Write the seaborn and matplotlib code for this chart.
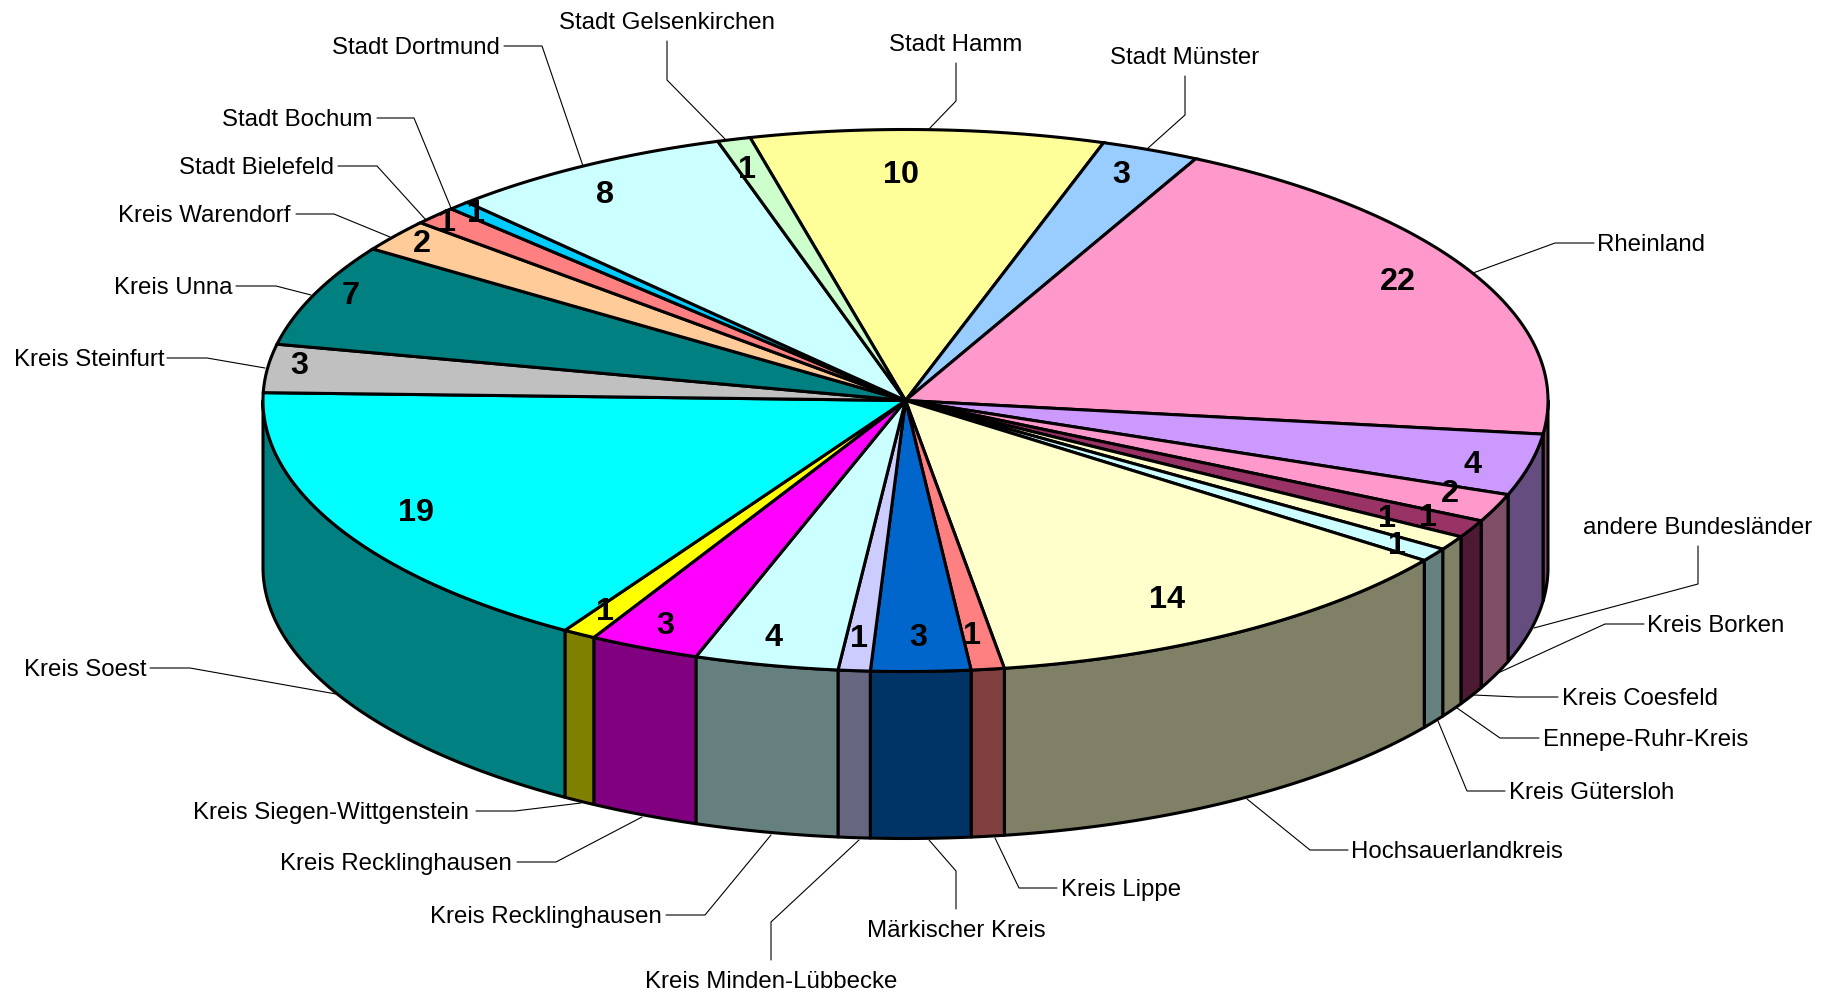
import numpy as np
import pandas as pd
import matplotlib
matplotlib.use("Agg")
import matplotlib.pyplot as plt
import seaborn as sns
from matplotlib.colors import to_rgb
from matplotlib.patches import Polygon

# ---- data (clockwise, beginning with Stadt Hamm) ----
regions = ["Stadt Hamm", "Stadt Münster", "Rheinland", "andere Bundesländer", "Kreis Borken",
           "Kreis Coesfeld", "Ennepe-Ruhr-Kreis", "Kreis Gütersloh", "Hochsauerlandkreis",
           "Kreis Lippe", "Märkischer Kreis", "Kreis Minden-Lübbecke", "Kreis Recklinghausen",
           "Kreis Recklinghausen", "Kreis Siegen-Wittgenstein", "Kreis Soest", "Kreis Steinfurt",
           "Kreis Unna", "Kreis Warendorf", "Stadt Bielefeld", "Stadt Bochum", "Stadt Dortmund",
           "Stadt Gelsenkirchen"]
# the printed (rounded) labels
counts = [10, 3, 22, 4, 2, 1, 1, 1, 14, 1, 3, 1, 4, 3, 1, 19, 3, 7, 2, 1, 1, 8, 1]
# the unrounded sizes
sizes = [10.05, 2.8, 22.1, 4.15, 1.9, 1.2, 0.97, 0.91, 14.15, 0.94, 2.83, 0.91, 4.09, 3.14, 0.94,
         18.76, 3.25, 6.92, 2.2, 1.26, 0.63, 8.18, 0.94]
colors = ["#FFFF99", "#99CCFF", "#FF99CC", "#CC99FF", "#FF99CC", "#993366", "#FFFFCC", "#CCFFFF",
          "#FFFFCC", "#FF8080", "#0066CC", "#CCCCFF", "#CCFFFF", "#FF00FF", "#FFFF00", "#00FFFF",
          "#C0C0C0", "#008080", "#FFCC99", "#FF8080", "#00CCFF", "#CCFFFF", "#CCFFCC"]

# ---- layout (pixels of the 1832x994 canvas) ----
CX, CY, RX, RY, DEPTH = 905.5, 400.5, 642.5, 271.0, 167.0
START = -14.0
value_xy = [(771,148),(960,148),(1196,239),(1260,396),(1241,421),(1222,441),(1187,442),(1196,465),
            (999,511),(832,542),(786,544),(735,545),(662,544),(569,534),(518,522),(356,437),
            (256,311),(300,251),(361,207),(383,189),(407,181),(518,165),(639,143)]
value_xy = [(x*1.1684, y*1.1684 + 0.5) for x, y in value_xy]
label_xy = [(956,43,"center"),(1185,56,"center"),(1597,243,"left"),(1698,526,"center"),(1647,624,"left"),
            (1562,697,"left"),(1543,738,"left"),(1509,791,"left"),(1351,850,"left"),(1061,888,"left"),
            (956,929,"center"),(771,980,"center"),(662,915,"right"),(512,862,"right"),(469,811,"right"),
            (147,668,"right"),(164,358,"right"),(233,286,"right"),(291,214,"right"),(334,166,"right"),
            (373,118,"right"),(500,46,"right"),(667,21,"center")]
leaders = [[(956,63),(956,101),(929,129)], [(1185,76),(1185,115),(1147,149)],
           [(1594,243),(1555,243),(1473,273)], [(1698,546),(1698,584),(1534,628)],
           [(1644,624),(1605,624),(1498,673)], [(1558,697),(1517,697),(1474,695)],
           [(1539,738),(1500,738),(1457,708)], [(1505,791),(1467,791),(1438,721)],
           [(1348,850),(1310,850),(1247,799)], [(1057,888),(1019,888),(995,838)],
           [(956,909),(956,871),(929,840)], [(771,960),(771,922),(859,840)],
           [(666,915),(705,915),(771,835)], [(517,862),(556,862),(642,817)],
           [(476,811),(515,811),(581,803)], [(150,668),(190,668),(336,694)],
           [(167,358),(207,358),(265,368)], [(236,286),(276,286),(311,295)],
           [(296,214),(334,214),(390,237)], [(338,166),(377,166),(426,220)],
           [(377,118),(414,118),(451,208)], [(504,46),(542,46),(583,166)],
           [(667,41),(667,80),(726,140)]]

sns.set_theme(style="white")
plt.rcParams["font.family"] = ["Liberation Sans", "DejaVu Sans"]

df = pd.DataFrame({"region": regions, "count": counts, "size": sizes, "color": colors})
deg = 360.0 * df["size"].to_numpy() / df["size"].sum()
df["t0"] = START + np.r_[0, np.cumsum(deg)[:-1]]
df["t1"] = df["t0"] + deg
palette = sns.color_palette(colors)

fig = plt.figure(figsize=(18.32, 9.94), dpi=100, facecolor="white")
ax = fig.add_axes([0, 0, 1, 1])
ax.set_xlim(0, 1832)
ax.set_ylim(994, 0)
ax.axis("off")


def rim(a0, a1, dy=0.0):
    t = np.radians(np.linspace(a0, a1, max(int(abs(a1 - a0) * 3), 2)))
    return np.c_[CX + RX * np.sin(t), CY + dy - RY * np.cos(t)]


LW = 2.2
# side wall
for (_, r), c in zip(df.iterrows(), palette):
    a0, a1 = max(r.t0, 90), min(r.t1, 270)
    if a1 <= a0:
        continue
    pts = np.r_[rim(a0, a1), rim(a0, a1, DEPTH)[::-1]]
    side = tuple(0.5 * v for v in to_rgb(c))
    ax.add_patch(Polygon(pts, closed=True, fc=side, ec="black", lw=LW, joinstyle="round", zorder=2))

# top face
for (_, r), c in zip(df.iterrows(), palette):
    pts = np.r_[[(CX, CY)], rim(r.t0, r.t1)]
    ax.add_patch(Polygon(pts, closed=True, fc=c, ec="black", lw=LW, joinstyle="miter", zorder=3))

# leaders and labels
for pts, (x, y, ha), name in zip(leaders, label_xy, df["region"]):
    p = np.array(pts)
    ax.plot(p[:, 0], p[:, 1], color="black", lw=0.8, zorder=1, solid_joinstyle="miter")
    ax.text(x, y + 1.8, name, ha=ha, va="center", fontsize=17.3, color="black", zorder=5)

for (x, y), v in zip(value_xy, df["count"]):
    ax.text(x, y + 2, str(v), ha="center", va="center", fontsize=23.3, fontweight="bold",
            color="black", zorder=6)

fig.savefig("out.png", dpi=100, facecolor="white")
